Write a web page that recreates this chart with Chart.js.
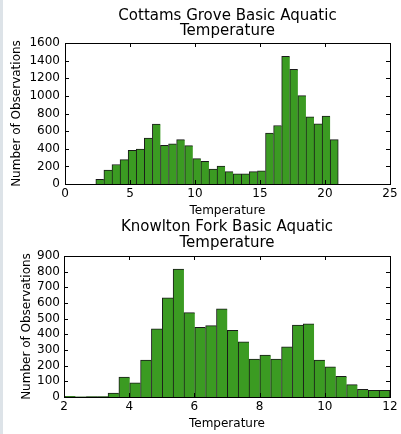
<!DOCTYPE html>
<html>
<head>
<meta charset="utf-8">
<script src="https://cdn.jsdelivr.net/npm/chart.js@4/dist/chart.umd.min.js"></script>
<style>
  html, body { margin: 0; padding: 0; background: #fff; }
  body { width: 401px; height: 434px; position: relative; overflow: hidden; }
  canvas { position: absolute; left: 0; }
  #grove { top: 0; }
  #knowlton { top: 217px; }
  #edge { position: absolute; left: 0; top: 0; width: 3px; height: 434px; background: #dde3e8; }
</style>
</head>
<body>
<canvas id="grove" width="401" height="217"></canvas>
<canvas id="knowlton" width="401" height="217"></canvas>
<div id="edge"></div>
<script>
'use strict';

// Cottams Grove histogram (30 bins)
var GROVE_TITLE = ['Cottams Grove Basic Aquatic', 'Temperature'];
var GROVE_BIN_MIN = 2.37;
var GROVE_BIN_MAX = 21.02;
var GROVE_COUNTS = [52, 159, 221, 277, 382, 395, 522, 681, 438, 457,
                    503, 436, 288, 256, 170, 202, 140, 116, 116, 140,
                    150, 578, 664, 1450, 1300, 1002, 761, 684, 770, 503];
var GROVE_X_TICKS = [0, 5, 10, 15, 20, 25];
var GROVE_Y_TICKS = [0, 200, 400, 600, 800, 1000, 1200, 1400, 1600];

// Knowlton Fork histogram (30 bins)
var KNOWLTON_TITLE = ['Knowlton Fork Basic Aquatic', 'Temperature'];
var KNOWLTON_BIN_MIN = 2.02;
var KNOWLTON_BIN_MAX = 12.0;
var KNOWLTON_COUNTS = [4, 1, 3, 3, 25, 127, 91, 236, 435, 633,
                       817, 539, 444, 456, 563, 425, 352, 242, 267, 242,
                       321, 459, 467, 236, 193, 132, 79, 49, 42, 42];
var KNOWLTON_X_TICKS = [2, 4, 6, 8, 10, 12];
var KNOWLTON_Y_TICKS = [0, 100, 200, 300, 400, 500, 600, 700, 800, 900];

var X_LABEL = 'Temperature';
var Y_LABEL = 'Number of Observations';

var BAR_FILL = '#3b9b22';
var BAR_EDGE = '#1a1a1a';
var TICK_LEN = 4;

Chart.defaults.font.family = "'DejaVu Sans', sans-serif";
Chart.defaults.color = '#000';

function histPoints(min, max, counts) {
  var w = (max - min) / counts.length;
  return counts.map(function(c, i) {
    return { x: min + w * (i + 0.5), y: c };
  });
}

function fixedTicks(values) {
  return function(scale) {
    scale.ticks = values.map(function(v) { return { value: v }; });
  };
}

// matplotlib-style frame with inward ticks on all four sides
var frameTicks = {
  id: 'frameTicks',
  afterDraw: function(chart) {
    var a = chart.chartArea;
    var ctx = chart.ctx;
    var xs = chart.scales.x;
    var ys = chart.scales.y;
    ctx.save();
    ctx.strokeStyle = '#000';
    ctx.lineWidth = 1;
    ctx.beginPath();
    xs.ticks.forEach(function(t) {
      var px = Math.round(xs.getPixelForValue(t.value)) + 0.5;
      ctx.moveTo(px, a.bottom); ctx.lineTo(px, a.bottom - TICK_LEN);
      ctx.moveTo(px, a.top); ctx.lineTo(px, a.top + TICK_LEN);
    });
    ys.ticks.forEach(function(t) {
      var py = Math.round(ys.getPixelForValue(t.value)) + 0.5;
      ctx.moveTo(a.left, py); ctx.lineTo(a.left + TICK_LEN, py);
      ctx.moveTo(a.right, py); ctx.lineTo(a.right - TICK_LEN, py);
    });
    ctx.stroke();
    ctx.strokeRect(Math.round(a.left) + 0.5, Math.round(a.top) + 0.5,
                   Math.round(a.right - a.left), Math.round(a.bottom - a.top));
    ctx.restore();
  }
};

function makeHist(canvasId, o) {
  var last = o.counts.length - 1;
  return new Chart(document.getElementById(canvasId), {
    type: 'bar',
    data: {
      datasets: [{
        data: histPoints(o.binMin, o.binMax, o.counts),
        backgroundColor: BAR_FILL,
        borderColor: BAR_EDGE,
        borderWidth: function(ctx) {
          return { top: 1, left: 1, bottom: 0, right: ctx.dataIndex === last ? 1 : 0 };
        },
        borderSkipped: 'start',
        barPercentage: 1,
        categoryPercentage: 1
      }]
    },
    options: {
      responsive: false,
      animation: false,
      events: [],
      layout: { padding: { left: 0, right: o.padRight, top: 0, bottom: 0 } },
      plugins: {
        legend: { display: false },
        tooltip: { enabled: false },
        title: {
          display: true,
          text: o.title,
          fullSize: false,
          color: '#000',
          font: { size: 15, weight: 'normal', lineHeight: o.titleLine },
          padding: o.titlePad
        }
      },
      scales: {
        x: {
          type: 'linear',
          offset: false,
          min: o.xTicks[0],
          max: o.xTicks[o.xTicks.length - 1],
          afterBuildTicks: fixedTicks(o.xTicks),
          afterFit: function(scale) { scale.height = o.xHeight; },
          grid: { display: false, drawTicks: false, offset: false },
          border: { display: false },
          ticks: {
            font: { size: 12 },
            padding: o.xTickPad,
            maxRotation: 0,
            autoSkip: false,
            callback: function(v) { return String(v); }
          },
          title: {
            display: true,
            text: X_LABEL,
            font: { size: 12, lineHeight: 1 },
            padding: { top: 0, bottom: o.xTitlePad }
          }
        },
        y: {
          type: 'linear',
          min: o.yTicks[0],
          max: o.yTicks[o.yTicks.length - 1],
          afterBuildTicks: fixedTicks(o.yTicks),
          afterFit: function(scale) { scale.width = o.yWidth; },
          grid: { display: false, drawTicks: false },
          border: { display: false },
          ticks: {
            font: { size: 12 },
            padding: o.yTickPad,
            autoSkip: false,
            callback: function(v) { return String(v); }
          },
          title: {
            display: true,
            text: Y_LABEL,
            font: { size: 12, lineHeight: 1.2 },
            padding: { top: o.yTitlePad, bottom: 0 }
          }
        }
      }
    },
    plugins: [frameTicks]
  });
}

makeHist('grove', {
  title: GROVE_TITLE,
  binMin: GROVE_BIN_MIN,
  binMax: GROVE_BIN_MAX,
  counts: GROVE_COUNTS,
  xTicks: GROVE_X_TICKS,
  yTicks: GROVE_Y_TICKS,
  padRight: 11,
  titleLine: 1.02,
  titlePad: { top: 8, bottom: 4.4 },
  xHeight: 33,
  xTickPad: 3,
  xTitlePad: 0,
  yWidth: 65,
  yTickPad: 5,
  yTitlePad: 10
});

makeHist('knowlton', {
  title: KNOWLTON_TITLE,
  binMin: KNOWLTON_BIN_MIN,
  binMax: KNOWLTON_BIN_MAX,
  counts: KNOWLTON_COUNTS,
  xTicks: KNOWLTON_X_TICKS,
  yTicks: KNOWLTON_Y_TICKS,
  padRight: 11,
  titleLine: 1.03,
  titlePad: { top: 2.8, bottom: 5.3 },
  xHeight: 37,
  xTickPad: 2.5,
  xTitlePad: 4.2,
  yWidth: 64,
  yTickPad: 4,
  yTitlePad: 19.3
});
</script>
</body>
</html>
